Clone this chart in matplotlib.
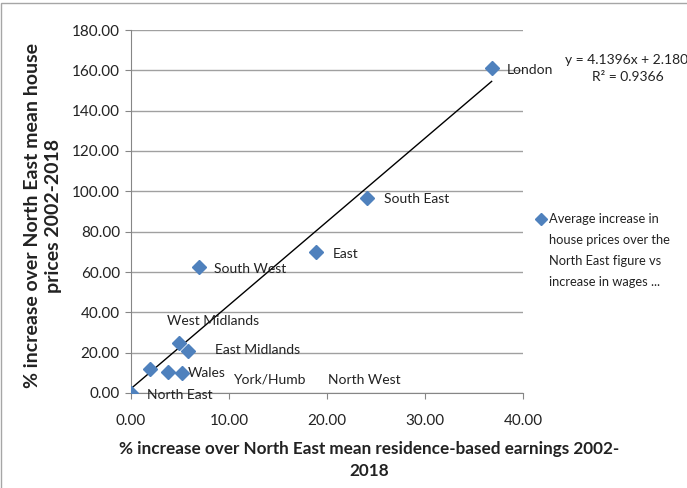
import matplotlib
matplotlib.use("Agg")
import matplotlib.pyplot as plt
from matplotlib.patches import Rectangle
import numpy as np

plt.rcParams['font.family'] = ['Lato', 'DejaVu Sans']

regions = ["North East", "North West", "York/Humb", "Wales", "West Midlands",
           "East Midlands", "South West", "East", "South East", "London"]
earnings_pct = [0.0, 1.9, 3.8, 5.2, 4.9, 5.8, 6.9, 18.9, 24.1, 36.8]
house_pct = [0.0, 11.9, 10.4, 9.9, 24.8, 20.8, 62.5, 70.0, 96.5, 161.0]
slope, intercept, r2 = 4.1396, 2.1806, 0.9366
x_ticks = [0, 10, 20, 30, 40]
y_ticks = [0, 20, 40, 60, 80, 100, 120, 140, 160, 180]
legend_lines = ["Average increase in", "house prices over the",
                "North East figure vs", "increase in wages ..."]

# label offsets in pixels from each marker
label_offsets = {
    "North East": (16, -2), "North West": (178, -11), "York/Humb": (65, -7),
    "Wales": (6, 0), "West Midlands": (-12, 22), "East Midlands": (27, 1),
    "South West": (15, -2), "East": (17, -2), "South East": (17, -1),
    "London": (15, -2),
}

W, H = 687, 488
fig = plt.figure(figsize=(W / 100, H / 100), dpi=100)
ax = fig.add_axes([131 / W, 95 / H, 392 / W, 363 / H])

blue = "#4F81BD"
ax.plot(earnings_pct, house_pct, linestyle="none", marker="D", markersize=7,
        color=blue, zorder=3)

xs = np.array([min(earnings_pct), max(earnings_pct)])
ax.plot(xs, slope * xs + intercept, color="black", linewidth=1.0, zorder=2)

for name, x, y in zip(regions, earnings_pct, house_pct):
    dx, dy = label_offsets[name]
    ax.annotate(name, (x, y), xytext=(dx, dy), textcoords="offset pixels",
                ha="left", va="center", fontsize=10, color="#222222", zorder=4)

ax.set_xlim(0, 40)
ax.set_ylim(0, 180)
ax.set_xticks(x_ticks)
ax.set_yticks(y_ticks)
ax.set_xticklabels([f"{v:.2f}" for v in x_ticks])
ax.set_yticklabels([f"{v:.2f}" for v in y_ticks])
ax.tick_params(axis="both", labelsize=11, colors="#222222", length=4,
               direction="out", color="#868686")
ax.tick_params(axis="x", pad=11)
ax.tick_params(axis="y", pad=4)
ax.yaxis.grid(True, color="#A0A0A0", linewidth=1.0)
ax.set_axisbelow(True)
for side in ("top", "right"):
    ax.spines[side].set_visible(False)
for side in ("left", "bottom"):
    ax.spines[side].set_color("#868686")

fig.text(43 / W, 1 - 216 / H, "% increase over North East mean house\nprices 2002-2018",
         rotation=90, ha="center", va="center", fontsize=14, fontweight="bold",
         color="#222222", linespacing=1.3)
fig.text(369 / W, 1 - 460 / H,
         "% increase over North East mean residence-based earnings 2002-\n2018",
         ha="center", va="center", fontsize=12.3, fontweight="bold",
         color="#222222", linespacing=1.45)

fig.text(565 / W, 1 - 60 / H, f"y = {slope}x + {intercept}", ha="left",
         va="center", fontsize=10, color="#222222")
fig.text(628 / W, 1 - 77 / H, f"R² = {r2}", ha="center", va="center",
         fontsize=10, color="#222222")

# legend entry
fig.lines.append(plt.Line2D([541 / W], [1 - 219 / H], transform=fig.transFigure,
                            marker="D", markersize=6, color=blue, linestyle="none"))
for i, line in enumerate(legend_lines):
    fig.text(549 / W, 1 - (219 + 21 * i) / H, line, ha="left", va="center",
             fontsize=9.3, color="#222222")

fig.patches.append(Rectangle((0.5 / W, -0.05), 1.1, 1 - 2.5 / H + 0.05,
                             transform=fig.transFigure, fill=False,
                             edgecolor="#A6A6A6", linewidth=1.0))

fig.savefig("out.png", dpi=100, facecolor="white")
